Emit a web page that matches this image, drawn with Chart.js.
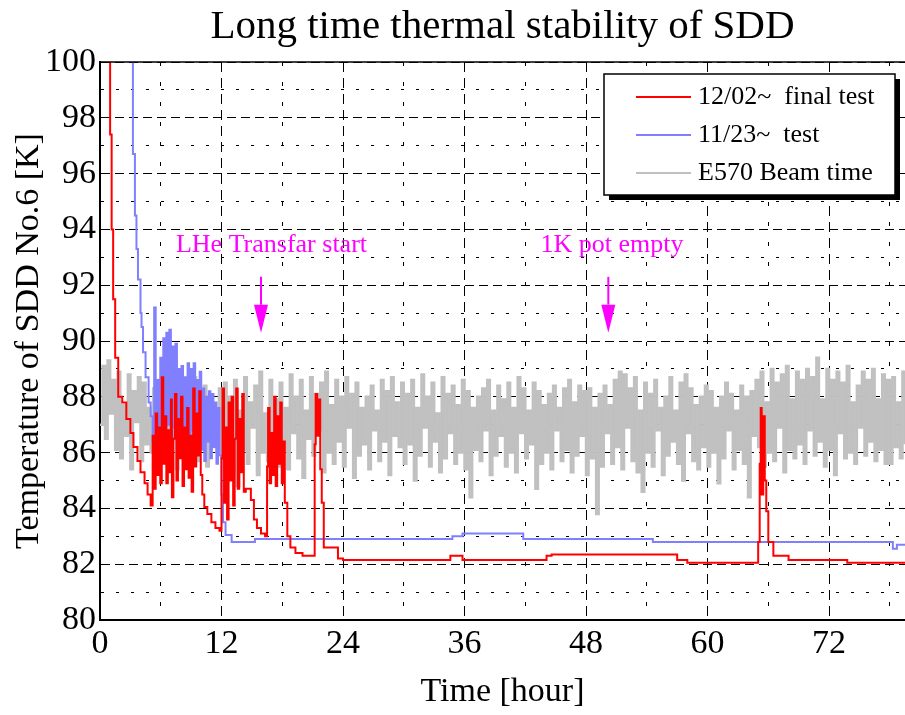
<!DOCTYPE html>
<html>
<head>
<meta charset="utf-8">
<script src="https://cdn.jsdelivr.net/npm/chart.js@4.4.0/dist/chart.umd.min.js"></script>
<style>
  html, body { margin: 0; padding: 0; background: #fff; }
  #wrap { width: 905px; height: 715px; }
</style>
</head>
<body>
<div id="wrap"><canvas id="c"></canvas></div>
<script>
const SERIF = "'Liberation Serif', 'Times New Roman', serif";

const seriesNames = ['12/02~  final test', '11/23~  test', 'E570 Beam time'];
const seriesColors = ['#ff0000', '#8080ff', '#c0c0c0'];

// 12/02~ final test : [hour, K]
const finalTest = [
  [0.9, 101], [1.0, 97.4], [1.15, 94.0], [1.3, 91.5], [1.5, 89.4], [1.8, 88.0], [2.2, 87.8],
  [2.6, 87.2], [3.0, 86.7], [3.3, 86.2], [3.7, 85.7], [4.0, 85.3], [4.4, 84.9], [4.7, 84.5], [5.0, 84.1],
  [5.2, 86.6], [5.35, 84.7], [5.5, 87.4], [5.65, 85.2], [5.8, 86.9], [5.95, 84.9], [6.1, 88.7],
  [6.25, 85.6], [6.4, 87.3], [6.55, 84.9], [6.7, 86.8], [6.85, 85.3], [7.0, 87.9], [7.1, 84.4],
  [7.25, 86.5], [7.4, 88.1], [7.55, 85.0], [7.7, 87.2], [7.85, 85.8], [8.0, 88.0], [8.15, 84.8],
  [8.3, 86.9], [8.45, 85.4], [8.6, 87.6], [8.75, 85.1], [8.9, 86.6], [9.05, 84.6], [9.2, 88.3],
  [9.35, 85.5], [9.5, 87.4], [9.65, 85.9], [9.8, 88.2], [9.95, 85.2],
  [10.1, 84.5], [10.3, 84.05], [10.6, 83.8], [11.0, 83.5], [11.4, 83.3], [11.8, 83.2],
  [12.0, 85.8], [12.1, 88.3], [12.25, 84.2], [12.4, 86.9], [12.55, 83.6], [12.7, 87.8], [12.85, 85.0],
  [13.0, 88.0], [13.15, 84.1], [13.3, 86.5], [13.45, 88.3], [13.6, 84.7], [13.75, 87.2], [13.9, 85.3],
  [14.05, 88.1], [14.2, 84.6],
  [14.4, 84.7], [14.9, 84.3], [15.2, 83.6], [15.5, 83.3], [15.9, 83.1], [16.3, 83.0],
  [16.5, 85.5], [16.6, 87.6], [16.75, 84.9], [16.9, 86.7], [17.05, 85.2], [17.2, 88.0], [17.35, 84.8],
  [17.5, 87.3], [17.65, 85.6], [17.8, 87.8], [17.95, 84.9], [18.1, 86.4], [18.25, 84.2],
  [18.5, 83.0], [18.8, 82.6], [19.3, 82.4], [20.0, 82.3],
  [21.2, 86.3], [21.3, 88.1], [21.45, 86.6], [21.6, 87.9], [21.75, 85.4], [21.9, 84.2], [22.1, 82.6],
  [23.5, 82.2], [24.0, 82.15], [34.6, 82.3], [35.8, 82.15], [44.1, 82.3], [44.6, 82.35],
  [57.0, 82.15], [58.0, 82.05],
  [65.0, 82.8], [65.15, 85.6], [65.25, 87.6], [65.35, 84.5], [65.5, 87.3], [65.65, 85.0], [65.8, 83.9],
  [66.0, 82.8], [66.5, 82.3], [68.0, 82.15], [73.8, 82.05], [79.5, 82.05]
];

// 11/23~ test : [hour, K]
const firstTest = [
  [3.0, 101], [3.25, 96.7], [3.45, 94.5], [3.6, 93.3], [3.75, 92.2], [4.0, 91.0], [4.1, 90.5],
  [4.25, 89.6], [4.5, 88.7], [4.8, 87.8], [5.0, 87.3],
  [5.2, 86.4], [5.35, 91.2], [5.5, 86.8], [5.65, 88.6], [5.8, 86.2], [5.95, 89.4], [6.1, 86.9],
  [6.25, 90.1], [6.4, 86.5], [6.55, 90.3], [6.7, 87.0], [6.85, 90.4], [7.0, 86.4], [7.15, 89.8],
  [7.3, 86.9], [7.45, 89.9], [7.6, 86.3], [7.75, 89.0], [7.9, 87.1], [8.05, 89.1], [8.2, 86.0],
  [8.35, 88.7], [8.5, 86.6], [8.65, 89.2], [8.8, 86.2], [8.95, 89.0], [9.1, 86.8], [9.25, 89.2],
  [9.4, 85.9], [9.55, 88.6], [9.7, 86.5], [9.85, 88.9], [10.0, 86.1], [10.15, 88.3], [10.3, 85.7],
  [10.45, 88.0], [10.6, 86.4], [10.75, 88.2], [10.9, 85.8], [11.05, 88.1], [11.2, 86.2], [11.35, 87.8],
  [11.5, 85.6], [11.65, 87.6], [11.8, 85.9],
  [12.0, 84.5], [12.15, 83.5], [12.4, 83.05], [13.0, 82.8], [15.3, 82.9], [34.8, 83.0], [35.8, 83.1],
  [41.8, 82.9], [54.6, 82.8], [78.3, 82.55], [78.7, 82.7], [79.5, 82.7]
];

// E570 Beam time, sampled every 0.25 hour from t = 0
const beamStep = 0.25;
const beamTime = [
  87.0, 89.1, 86.5, 89.3, 87.4, 88.6, 86.1, 88.9, 85.8, 87.7, 86.6, 88.8, 85.4, 88.2, 87.1, 88.7, 85.7, 88.5, 86.3, 87.6, 86.0, 88.3, 86.7, 88.6,
  86.2, 88.4, 85.6, 87.5, 86.5, 88.6, 85.4, 88.0, 86.9, 88.5, 85.9, 87.4, 86.4, 88.7, 85.7, 88.2, 87.0, 88.4, 85.5, 88.0, 86.2, 87.6, 86.0, 88.3,
  85.8, 88.5, 86.8, 88.0, 85.3, 88.6, 84.8, 87.5, 86.1, 88.7, 85.6, 87.8, 86.9, 88.4, 85.2, 88.9, 86.0, 87.4, 85.7, 88.6, 86.3, 87.9, 85.5, 88.5,
  86.1, 87.6, 85.4, 88.8, 86.7, 88.0, 85.8, 88.6, 85.1, 87.5, 86.5, 88.7, 85.9, 88.1, 86.8, 88.5, 85.3, 88.9, 86.0, 87.7, 85.6, 88.6, 86.4, 88.0,
  85.5, 88.7, 86.9, 88.1, 85.1, 88.5, 85.9, 87.6, 86.3, 88.0, 85.4, 88.4, 86.8, 87.5, 85.7, 88.6, 86.4, 88.2, 85.2, 88.7, 86.6, 87.8, 86.2, 88.5,
  85.6, 88.1, 86.3, 88.6, 85.0, 87.6, 85.9, 88.8, 86.9, 88.0, 85.5, 88.5, 86.4, 87.4, 85.3, 88.7, 85.8, 88.1, 86.7, 88.4, 85.6, 87.7, 86.0, 88.6,
  85.4, 88.2, 84.4, 87.6, 86.1, 88.0, 85.7, 88.3, 86.8, 88.6, 85.2, 87.5, 85.9, 88.4, 86.6, 87.9, 85.5, 88.5, 86.0, 87.6, 85.3, 88.7, 86.7, 88.3,
  85.8, 87.5, 86.3, 88.5, 84.7, 88.2, 85.6, 87.7, 86.0, 88.1, 85.4, 88.4, 86.8, 87.6, 85.7, 88.3, 86.1, 88.6, 85.3, 87.8, 85.9, 88.4, 86.6, 88.2,
  85.2, 88.3, 85.8, 87.6, 83.8, 88.1, 85.5, 88.4, 86.7, 87.7, 85.6, 88.6, 86.2, 88.9, 85.4, 88.8, 86.9, 88.3, 85.7, 88.7, 85.3, 87.5, 84.6, 88.5,
  86.0, 88.1, 85.5, 88.6, 86.8, 87.6, 85.2, 88.0, 85.9, 88.7, 86.4, 87.5, 85.6, 88.5, 85.0, 88.8, 86.7, 88.3, 85.7, 87.7, 85.4, 88.0, 86.2, 88.4,
  85.5, 88.2, 86.0, 87.6, 84.9, 88.0, 85.8, 88.5, 86.8, 88.1, 85.4, 87.5, 86.1, 88.4, 85.6, 88.0, 84.4, 88.2, 86.6, 88.6, 86.2, 88.9, 85.5, 87.8,
  86.0, 89.0, 85.7, 88.5, 86.9, 88.8, 85.3, 89.1, 86.1, 87.9, 85.8, 88.9, 86.3, 88.6, 85.6, 89.0, 86.8, 88.7, 85.9, 89.4, 86.4, 87.9, 85.5, 89.0,
  86.1, 88.6, 85.2, 88.9, 86.7, 88.5, 85.8, 89.1, 86.0, 87.8, 85.6, 88.4, 86.9, 88.9, 85.9, 88.6, 86.4, 89.0, 85.7, 87.9, 86.1, 88.8, 85.6, 88.6,
  85.6, 88.7, 86.2, 87.8, 85.8, 88.9, 86.3
];

// annotations: text anchor [hour, K], arrow at hour from K top to K tip
const notes = [
  { text: 'LHe Transfar start', tx: 7.5, ty: 93.2, ax: 15.9, top: 92.3, tip: 90.3 },
  { text: '1K pot empty', tx: 43.5, ty: 93.2, ax: 50.2, top: 92.3, tip: 90.3 }
];

const beamData = beamTime.map((v, i) => [i * beamStep, v]);

const extras = {
  id: 'extras',
  afterDraw(chart) {
    const ctx = chart.ctx;
    const a = chart.chartArea;
    const xs = chart.scales.x, ys = chart.scales.y;
    ctx.save();

    // title
    ctx.fillStyle = '#000';
    ctx.font = '41px ' + SERIF;
    ctx.textAlign = 'center';
    ctx.textBaseline = 'alphabetic';
    ctx.fillText('Long time thermal stability of SDD', (a.left + a.right) / 2, 38);

    // top frame
    ctx.strokeStyle = '#000';
    ctx.lineWidth = 1.5;
    ctx.beginPath();
    ctx.moveTo(a.left, a.top);
    ctx.lineTo(a.right, a.top);
    ctx.stroke();

    // annotations
    ctx.fillStyle = '#ff00ff';
    ctx.strokeStyle = '#ff00ff';
    ctx.font = '26px ' + SERIF;
    ctx.textAlign = 'left';
    notes.forEach(n => {
      ctx.fillText(n.text, xs.getPixelForValue(n.tx), ys.getPixelForValue(n.ty));
      const x = xs.getPixelForValue(n.ax);
      const y0 = ys.getPixelForValue(n.top);
      const y1 = ys.getPixelForValue(n.tip);
      const hy = y1 - 28;
      ctx.lineWidth = 2;
      ctx.beginPath();
      ctx.moveTo(x, y0);
      ctx.lineTo(x, hy);
      ctx.stroke();
      ctx.beginPath();
      ctx.moveTo(x - 7, hy);
      ctx.lineTo(x + 7, hy);
      ctx.lineTo(x, y1);
      ctx.closePath();
      ctx.fill();
    });

    // legend
    const lx = 604, ly = 74, lw = 291, lh = 121;
    ctx.fillStyle = '#000';
    ctx.fillRect(lx + 5, ly + 5, lw, lh);
    ctx.fillStyle = '#fff';
    ctx.fillRect(lx, ly, lw, lh);
    ctx.strokeStyle = '#000';
    ctx.lineWidth = 1.5;
    ctx.strokeRect(lx, ly, lw, lh);
    ctx.font = '26px ' + SERIF;
    ctx.textBaseline = 'middle';
    seriesNames.forEach((name, i) => {
      const y = ly + 23 + i * 38;
      ctx.strokeStyle = seriesColors[i];
      ctx.lineWidth = 2;
      ctx.beginPath();
      ctx.moveTo(lx + 32, y);
      ctx.lineTo(lx + 87, y);
      ctx.stroke();
      ctx.fillStyle = '#000';
      ctx.fillText(name, lx + 94, y);
    });
    ctx.restore();
  }
};

new Chart(document.getElementById('c'), {
  type: 'line',
  data: {
    datasets: [
      { label: seriesNames[0], data: finalTest, borderColor: seriesColors[0], borderWidth: 2, stepped: true },
      { label: seriesNames[1], data: firstTest, borderColor: seriesColors[1], borderWidth: 2, stepped: true },
      { label: seriesNames[2], data: beamData, borderColor: seriesColors[2], borderWidth: 2.5, stepped: true }
    ]
  },
  options: {
    responsive: true,
    maintainAspectRatio: false,
    animation: false,
    layout: { padding: { top: 62, right: 0, bottom: 0, left: 0 } },
    elements: { point: { radius: 0 } },
    plugins: {
      legend: { display: false },
      tooltip: { enabled: false }
    },
    scales: {
      x: {
        type: 'linear',
        min: 0,
        max: 79.5,
        afterFit: s => { s.height = 95; },
        ticks: {
          stepSize: 6,
          autoSkip: false,
          maxRotation: 0,
          includeBounds: false,
          padding: 4,
          color: '#000',
          font: { family: SERIF, size: 34 },
          callback: v => v % 12 === 0 ? v : ''
        },
        grid: { drawTicks: false, color: '#000', lineWidth: 1 },
        border: {
          display: true, color: '#000', width: 2,
          dash: c => (c.tick && c.tick.value % 12 !== 0) ? [4, 16] : [10, 6]
        },
        title: {
          display: true,
          text: 'Time [hour]',
          color: '#000',
          font: { family: SERIF, size: 34 },
          padding: { top: 0, bottom: 3 }
        }
      },
      y: {
        min: 80,
        max: 100,
        afterFit: s => { s.width = 100; },
        ticks: {
          stepSize: 1,
          autoSkip: false,
          padding: 4,
          color: '#000',
          font: { family: SERIF, size: 34 },
          callback: v => v % 2 === 0 ? v : ''
        },
        grid: { drawTicks: false, color: '#000', lineWidth: 1 },
        border: {
          display: true, color: '#000', width: 2,
          dash: c => (c.tick && c.tick.value % 2 !== 0) ? [3, 12] : [9, 5]
        },
        title: {
          display: true,
          text: 'Temperature of SDD No.6 [K]',
          color: '#000',
          font: { family: SERIF, size: 34 },
          padding: { top: 9, bottom: 0 }
        }
      }
    }
  },
  plugins: [extras]
});
</script>
</body>
</html>
